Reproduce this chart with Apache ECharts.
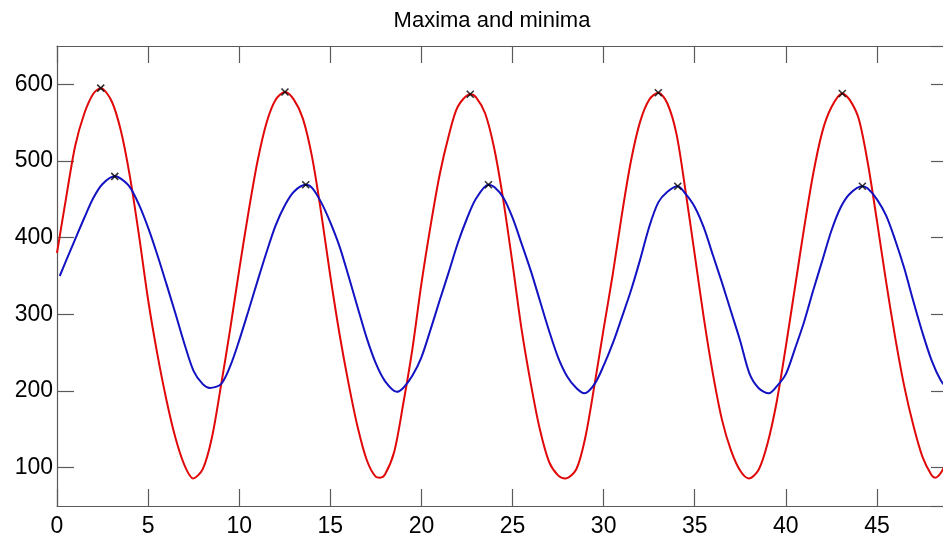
<!DOCTYPE html>
<html>
<head>
<meta charset="utf-8">
<title>Maxima and minima</title>
<script src="https://cdn.jsdelivr.net/npm/echarts@6/dist/echarts.min.js"></script>
<style>
  html, body { margin: 0; padding: 0; background: #fff; }
  #chart { width: 943px; height: 536px; }
</style>
</head>
<body>
<div id="chart"></div>
<script>
// Red signal: sample positions and values
const redX = [0, 0.5, 1, 1.5, 2, 2.4, 3, 3.5, 4, 4.5, 5, 5.5, 6, 6.5, 7, 7.47,
  8, 8.5, 9, 9.5, 10, 10.5, 11, 11.5, 12, 12.51, 13, 13.5, 14, 14.5, 15, 15.5, 16, 16.5, 17, 17.5, 17.73,
  18, 18.5, 19, 19.5, 20, 20.5, 21, 21.5, 22, 22.68, 23, 23.5, 24, 24.5, 25, 25.5, 26, 26.5, 27, 27.5, 27.9,
  28.5, 29, 29.5, 30, 30.5, 31, 31.5, 32, 32.5, 33, 33.5, 34, 34.5, 35, 35.5, 36, 36.5, 37, 37.5, 37.97,
  38.5, 39, 39.5, 40, 40.5, 41, 41.5, 42, 42.5, 43.1, 43.5, 44, 44.5, 45, 45.5, 46, 46.5, 47, 47.5, 48, 48.2,
  48.5, 48.9];
const redY = [380, 452, 520, 562, 588, 595, 578, 540, 480, 403, 319, 249, 189, 139, 103, 86,
  98, 139, 207, 280, 358, 432, 499, 550, 580, 590, 580, 555, 505, 432, 350, 275, 210, 153, 110, 88, 87,
  91, 120, 183, 254, 340, 415, 482, 533, 571, 587, 583, 562, 516, 448, 366, 280, 210, 150, 108, 90, 86,
  98, 140, 208, 281, 352, 430, 500, 551, 580, 589, 575, 535, 460, 378, 295, 222, 162, 122, 96, 86,
  97, 132, 186, 258, 335, 412, 483, 538, 570, 588, 580, 555, 497, 422, 343, 270, 206, 155, 114, 90, 87,
  93, 112];

// Blue signal: sample positions and values
const blueX = [0.15, 0.5, 1, 1.5, 2, 2.5, 3.17, 3.5, 4, 4.5, 5, 5.5, 6, 6.5, 7, 7.5, 8, 8.39,
  9, 9.5, 10, 10.5, 11, 11.5, 12, 12.5, 13, 13.65, 14, 14.5, 15, 15.5, 16, 16.5, 17, 17.5, 18, 18.65,
  19, 19.5, 20, 20.5, 21, 21.5, 22, 22.5, 23, 23.68, 24, 24.5, 25, 25.5, 26, 26.5, 27, 27.5, 28, 28.5, 28.94,
  29.5, 30, 30.5, 31, 31.5, 32, 32.5, 33, 33.5, 34.07, 34.5, 35, 35.5, 36, 36.5, 37, 37.5, 38, 38.5, 39.07,
  39.5, 40, 40.5, 41, 41.5, 42, 42.5, 43, 43.5, 44.2, 44.5, 45, 45.5, 46, 46.5, 47, 47.5, 48, 48.5, 48.9];
const blueY = [350, 370, 398, 426, 452, 470, 480, 477, 466, 443, 413, 378, 340, 301, 261, 226, 209, 204,
  209, 232, 266, 304, 343, 381, 416, 442, 460, 469, 465, 446, 420, 389, 350, 309, 269, 236, 213, 199,
  204, 220, 244, 280, 318, 355, 393, 425, 451, 469, 466, 452, 426, 392, 357, 318, 279, 244, 219, 204, 197,
  209, 233, 262, 296, 331, 371, 414, 446, 460, 467, 457, 440, 413, 377, 341, 303, 265, 223, 204, 197,
  206, 222, 255, 290, 331, 370, 409, 439, 457, 467, 464, 450, 429, 397, 360, 317, 276, 240, 214, 202];

// Axis tick labels
const xTicks = [0, 5, 10, 15, 20, 25, 30, 35, 40, 45];
const yTicks = [100, 200, 300, 400, 500, 600];

const zip = (xs, ys) => xs.map((x, i) => [x, ys[i]]);

// Interior local maxima of a sampled series
function localMaxima(xs, ys) {
  const out = [];
  for (let i = 1; i < ys.length - 1; i++) {
    if (ys[i] > ys[i - 1] && ys[i] >= ys[i + 1]) out.push([xs[i], ys[i]]);
  }
  return out;
}

const FONT = '"Liberation Sans", Arial, Helvetica, sans-serif';
const AXIS_COLOR = '#5a5a5a';

const chart = echarts.init(document.getElementById('chart'), null, { renderer: 'canvas' });

const labelXFmt = v => (xTicks.indexOf(v) >= 0 ? String(v) : '');
const labelYFmt = v => (yTicks.indexOf(v) >= 0 ? String(v) : '');

const axisLine = { show: true, onZero: false, lineStyle: { color: AXIS_COLOR, width: 1.2 } };
const axisTick = { show: true, inside: true, length: 17, lineStyle: { color: AXIS_COLOR, width: 1.2 } };

chart.setOption({
  animation: false,
  backgroundColor: '#ffffff',
  graphic: [{
    type: 'text',
    x: 492, y: 21,
    style: {
      text: 'Maxima and minima',
      font: '22px ' + FONT,
      fill: '#000',
      align: 'center', verticalAlign: 'middle',
      textAlign: 'center', textVerticalAlign: 'middle'
    }
  }],
  grid: { left: 57, right: -5, top: 46, bottom: 30, containLabel: false, outerBoundsMode: 'none' },
  xAxis: [
    {
      type: 'value', min: 0, max: 48.9, interval: 5, position: 'bottom',
      axisLine, axisTick, splitLine: { show: false },
      axisLabel: { margin: 9, fontFamily: FONT, fontSize: 23, color: '#000', formatter: labelXFmt, showMaxLabel: false }
    },
    {
      type: 'value', min: 0, max: 48.9, interval: 5, position: 'top',
      axisLine, axisTick, splitLine: { show: false },
      axisLabel: { show: false }
    }
  ],
  yAxis: [
    {
      type: 'value', min: 50, max: 650, splitNumber: 6, position: 'left',
      axisLine, axisTick, splitLine: { show: false },
      axisLabel: { margin: 4, fontFamily: FONT, fontSize: 23, color: '#000', formatter: labelYFmt, showMinLabel: false, showMaxLabel: false }
    },
    {
      type: 'value', min: 50, max: 650, splitNumber: 6, position: 'right',
      axisLine, axisTick, splitLine: { show: false },
      axisLabel: { show: false }
    }
  ],
  series: [
    {
      name: 'red', type: 'line', data: zip(redX, redY), smooth: 0.3,
      showSymbol: false, lineStyle: { color: '#e00808', width: 2 }, z: 2
    },
    {
      name: 'blue', type: 'line', data: zip(blueX, blueY), smooth: 0.3,
      showSymbol: false, lineStyle: { color: '#1212c2', width: 2 }, z: 3
    },
    {
      name: 'maxima', type: 'scatter',
      data: localMaxima(redX, redY).concat(localMaxima(blueX, blueY)),
      symbol: 'path://M0,0L10,10M10,0L0,10', symbolSize: 7,
      itemStyle: { color: 'none', borderColor: '#000', borderWidth: 1.6 }, z: 5
    }
  ]
});
</script>
</body>
</html>
